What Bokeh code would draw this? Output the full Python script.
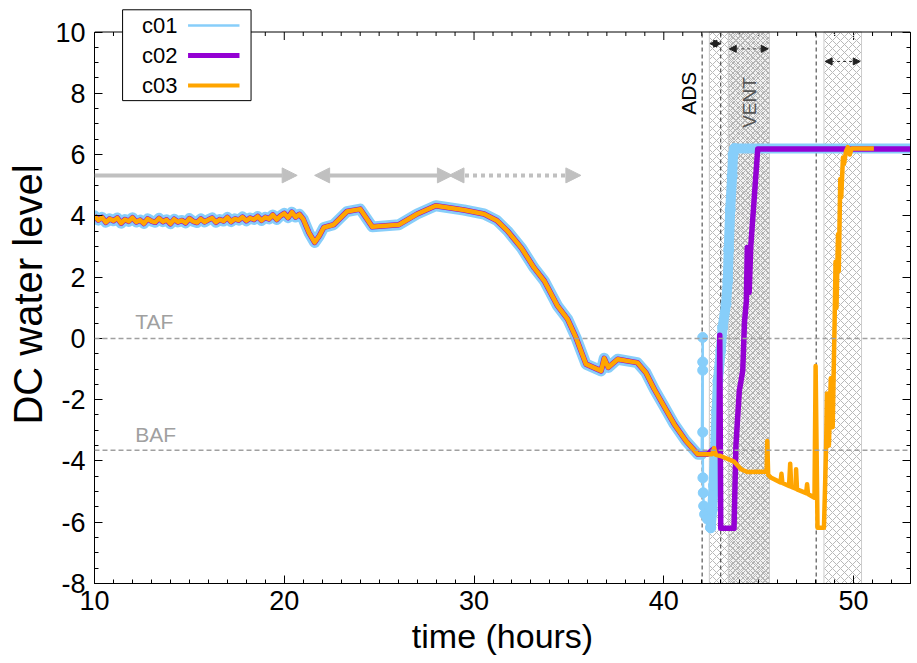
from bokeh.plotting import figure
from bokeh.models import (Range1d, SingleIntervalTicker, LinearAxis, Span, Label, Arrow,
                          NormalHead, BoxAnnotation, CustomJSTickFormatter)
from bokeh.embed import file_html
from bokeh.resources import INLINE

# ---------------- data ----------------
common_t = [10.0, 10.2, 10.4, 10.6, 10.8, 11.0, 11.2, 11.4, 11.6, 11.8,
            12.0, 12.2, 12.4, 12.6, 12.8, 13.0, 13.2, 13.4, 13.6, 13.8,
            14.0, 14.2, 14.4, 14.6, 14.8, 15.0, 15.2, 15.4, 15.6, 15.8,
            16.0, 16.2, 16.4, 16.6, 16.8, 17.0, 17.2, 17.4, 17.6, 17.8,
            18.0, 18.2, 18.4, 18.6, 18.8, 19.0, 19.2, 19.4, 19.6, 19.8,
            20.0, 20.2, 20.4, 20.6, 20.8, 21.0,
            21.3, 21.6, 21.85, 22.08, 22.6, 23.3, 24.0, 24.64, 26.04, 27.0,
            27.98, 29.47, 30.53, 31.2, 31.76, 32.5, 33.17, 33.7, 34.4, 34.93,
            35.37, 35.9, 36.7, 36.86, 37.07, 37.57, 38.6, 39.06, 39.5, 40.0,
            40.55, 41.17, 41.79]
common_y = [4.00, 3.86, 3.95, 3.79, 3.90, 3.84, 3.93, 3.76, 3.88, 3.82,
            3.94, 3.80, 3.86, 3.75, 3.90, 3.83, 3.79, 3.92, 3.81, 3.87,
            3.74, 3.89, 3.80, 3.85, 3.77, 3.91, 3.82, 3.78, 3.90, 3.80,
            3.87, 3.93, 3.79, 3.88, 3.83, 3.95, 3.81, 3.90, 3.86, 3.96,
            3.84, 3.93, 3.88, 3.98, 3.85, 3.95, 3.90, 4.03, 3.88, 4.00,
            4.08, 3.94, 4.12, 3.96, 4.05, 3.89,
            3.45, 3.13, 3.35, 3.62, 3.71, 4.14, 4.22, 3.64, 3.71, 4.06,
            4.33, 4.19, 4.06, 3.85, 3.51, 2.95, 2.30, 1.88, 1.06, 0.63,
            0.03, -0.84, -1.06, -0.65, -0.95, -0.68, -0.79, -1.12, -1.66, -2.2,
            -2.8, -3.35, -3.78]

# c01 after the common part: fast drop (sparse points) then rise to the top
c01_drop_t = [42.0, 42.05, 42.05, 42.05, 42.05, 42.06, 42.08, 42.1, 42.15, 42.3, 42.47]
c01_drop_y = [-3.78, 0.03, -0.77, -1.04, -3.06, -4.55, -5.04, -5.47, -5.74, -5.9, -6.18]
c01_rise_t = [42.47, 42.55, 42.62, 42.7, 42.78, 42.85, 43.0, 43.1, 43.28, 43.37, 43.42,
              43.5, 43.6, 43.65, 43.72, 53.0]
c01_rise_y = [-6.18, -5.6, -4.8, -3.6, -2.4, -1.39, -0.4, 0.36, 1.12, 1.88, 2.9,
              4.2, 5.3, 6.0, 6.2, 6.2]

c02_tail_t = [42.3, 42.6, 42.9, 42.95, 43.0, 43.7, 43.8, 43.98, 44.16, 44.25, 44.35,
              44.4, 44.5, 44.58, 44.95, 53.0]
c02_tail_y = [-3.78, -3.62, -3.8, 0.1, -6.2, -6.2, -3.5, -1.7, -1.06, 0.52, 1.2,
              2.97, 1.5, 2.97, 6.18, 6.18]

c03_tail_t = [42.3, 42.55, 42.65, 42.75, 43.0, 43.7, 44.07, 44.4, 45.3, 45.42, 45.45,
              45.5, 45.66, 46.15, 46.2, 46.25, 46.6, 46.66, 46.72, 46.95, 46.97, 47.02,
              47.5, 47.55, 47.6, 47.94, 48.0, 48.1, 48.44, 48.55, 48.6, 48.7, 48.8,
              48.9, 49.0, 49.05, 49.1, 49.18, 49.22, 49.3, 49.35, 49.44, 49.5, 49.6,
              49.7, 49.8, 49.9, 50.5, 51.07]
c03_tail_y = [-3.78, -3.78, -3.58, -3.8, -3.84, -4.02, -4.27, -4.36, -4.35, -4.35, -3.35,
              -4.45, -4.55, -4.7, -4.42, -4.72, -4.82, -4.09, -4.85, -4.9, -4.27, -4.93,
              -5.05, -4.76, -5.08, -5.2, -0.9, -6.18, -6.18, -3.6, -1.8, -3.5, -1.3,
              -2.9, 0.5, 2.5, 1.0, 3.4, 2.2, 5.2, 4.6, 5.9, 5.7, 6.1,
              6.24, 6.0, 6.2, 6.2, 6.2]

series_names = ["c01", "c02", "c03"]
series_colors = ["#87CEFA", "#9400D3", "#FFA500"]

taf_level = 0.0
baf_level = -3.65
event_lines = [42.02, 43.0, 48.03]          # ADS and later events
hatch_left = [42.4, 43.4, 48.44]
hatch_right = [45.57, 45.57, 50.42]

x_min, x_max = 10, 53
y_min, y_max = -8, 10
x_major = list(range(10, 51, 10))
x_minor = [v for v in range(11, 54) if v % 10 != 0]

# ---------------- figure ----------------
FONT = "Liberation Sans"
PX_PER_Y = 551.5 / 18.0           # pixel height of one y unit
TOP_PAD = 26.5                     # white band above the axes box (holds the legend)
y_view_top = y_max + TOP_PAD / PX_PER_Y

p = figure(width=917, height=663, x_range=Range1d(x_min, x_max),
           y_range=Range1d(y_min, y_view_top),
           output_backend="svg", toolbar_location=None,
           min_border_left=94, min_border_right=7, min_border_top=5, min_border_bottom=80)
p.background_fill_color = "white"
p.border_fill_color = "white"
p.outline_line_color = None
p.xgrid.visible = False
p.ygrid.visible = False

fmt = CustomJSTickFormatter(code="return tick.toFixed(0)")

def style_axis(ax, labels=True):
    ax.major_tick_in = 8
    ax.major_tick_out = 0
    ax.minor_tick_in = 4
    ax.minor_tick_out = 0
    ax.major_tick_line_color = "black"
    ax.minor_tick_line_color = "black"
    ax.axis_line_color = "black"
    if labels:
        ax.formatter = fmt
        ax.major_label_text_font = FONT
        ax.major_label_text_font_size = "27px"
        ax.major_label_text_color = "black"
        ax.axis_label_text_font = FONT
        ax.axis_label_text_font_style = "normal"
        ax.axis_label_text_color = "black"
    else:
        ax.formatter = CustomJSTickFormatter(code="return ''")
        ax.major_label_text_font_size = "1px"
        ax.major_label_standoff = 0

xa = p.xaxis[0]
xa.ticker = SingleIntervalTicker(interval=10, num_minor_ticks=10)
xa.axis_label = "time (hours)"
style_axis(xa)
xa.axis_label_text_font_size = "34px"
xa.major_label_standoff = 7
xa.axis_label_standoff = 4

ya = p.yaxis[0]
ya.ticker = SingleIntervalTicker(interval=2, num_minor_ticks=4)
ya.axis_label = "DC water level"
ya.bounds = (y_min, y_max)
style_axis(ya)
ya.axis_label_text_font_size = "40px"
ya.major_label_standoff = 9
ya.axis_label_standoff = 2

right_ax = LinearAxis(ticker=SingleIntervalTicker(interval=2, num_minor_ticks=4),
                      bounds=(y_min, y_max))
style_axis(right_ax, labels=False)
p.add_layout(right_ax, "right")

# top edge of the axes box with inward mirror ticks
p.add_layout(Span(location=y_max, dimension="width", line_color="black", line_width=1))
p.segment(x0=x_major, x1=x_major, y0=[y_max] * len(x_major),
          y1=[y_max - 8 / PX_PER_Y] * len(x_major), line_color="black", line_width=1)
p.segment(x0=x_minor, x1=x_minor, y0=[y_max] * len(x_minor),
          y1=[y_max - 4 / PX_PER_Y] * len(x_minor), line_color="black", line_width=1)

# hatched regions
p.quad(left=hatch_left[0:1], right=hatch_right[0:1], bottom=[y_min], top=[y_max],
       fill_color=None, hatch_pattern="diagonal_cross", hatch_color="#b8b8b8",
       hatch_scale=8, hatch_weight=1, line_color="#cccccc", line_width=1)
p.quad(left=hatch_left[1:2], right=hatch_right[1:2], bottom=[y_min], top=[y_max],
       fill_color="#d0d0d0", fill_alpha=0.3, hatch_pattern="diagonal_cross",
       hatch_color="#b0b0b0", hatch_scale=5, hatch_weight=1, line_color="#cccccc", line_width=1)
p.quad(left=hatch_left[2:3], right=hatch_right[2:3], bottom=[y_min], top=[y_max],
       fill_color=None, hatch_pattern="diagonal_cross", hatch_color="#b8b8b8",
       hatch_scale=8, hatch_weight=1, line_color="#cccccc", line_width=1)

# reference levels
for lvl in (taf_level, baf_level):
    p.add_layout(Span(location=lvl, dimension="width", line_color="#a0a0a0",
                      line_dash="5 3", line_width=1.5))
p.segment(x0=event_lines, x1=event_lines, y0=[y_min] * len(event_lines),
          y1=[y_max] * len(event_lines), line_color="#333333", line_dash="4 3", line_width=1)

p.add_layout(Label(x=12.15, y=taf_level + 0.17, text="TAF", text_font=FONT,
                   text_font_size="21px", text_color="#a0a0a0", text_baseline="bottom"))
p.add_layout(Label(x=12.15, y=baf_level + 0.13, text="BAF", text_font=FONT,
                   text_font_size="21px", text_color="#a0a0a0", text_baseline="bottom"))

# ---------------- series ----------------
p.line(common_t + [42.0], common_y + [-3.78], line_width=11, line_color=series_colors[0],
       line_join="round", line_cap="round")
p.line(c01_rise_t, c01_rise_y, line_width=10, line_color=series_colors[0],
       line_join="round", line_cap="round")
p.line(c01_drop_t, c01_drop_y, line_width=2.5, line_color=series_colors[0])
p.scatter(c01_drop_t[1:] + c01_rise_t[:-1], c01_drop_y[1:] + c01_rise_y[:-1],
          marker="circle", size=10, fill_color=series_colors[0], line_color=series_colors[0])

p.line(common_t + c02_tail_t, common_y + c02_tail_y, line_width=5.5,
       line_color=series_colors[1], line_join="round")
p.line(common_t + c03_tail_t, common_y + c03_tail_y, line_width=4.5,
       line_color=series_colors[2], line_join="round")

# ---------------- arrows / annotations ----------------
GRAY = "#c0c0c0"
def ghead():
    return NormalHead(size=15, fill_color=GRAY, line_color=GRAY, line_width=1)

p.add_layout(Arrow(start=None, end=ghead(), x_start=10.0, y_start=5.32, x_end=20.68, y_end=5.32,
                   line_color=GRAY, line_width=4))
p.add_layout(Arrow(start=ghead(), end=ghead(), x_start=21.6, y_start=5.32, x_end=28.86, y_end=5.32,
                   line_color=GRAY, line_width=4))
p.add_layout(Arrow(start=ghead(), end=ghead(), x_start=28.68, y_start=5.32, x_end=35.63, y_end=5.32,
                   line_color=GRAY, line_width=4, line_dash="4 4"))

def bhead():
    return NormalHead(size=7, fill_color="#222222", line_color="#222222", line_width=1)

p.add_layout(Arrow(start=bhead(), end=bhead(), x_start=42.43, y_start=9.62, x_end=43.0, y_end=9.62,
                   line_color="#222222", line_width=1, line_dash="3 3"))
p.add_layout(Arrow(start=bhead(), end=bhead(), x_start=43.45, y_start=9.45, x_end=45.5, y_end=9.45,
                   line_color="#444444", line_width=1, line_dash="3 3"))
p.add_layout(Arrow(start=bhead(), end=bhead(), x_start=48.5, y_start=9.04, x_end=50.35, y_end=9.04,
                   line_color="#222222", line_width=1, line_dash="3 3"))

p.add_layout(Label(x=41.3, y=8.0, text="ADS", angle=90, angle_units="deg", text_font=FONT,
                   text_font_size="21px", text_color="black", text_align="center",
                   text_baseline="middle"))
p.add_layout(Label(x=44.5, y=7.7, text="VENT", angle=90, angle_units="deg", text_font=FONT,
                   text_font_size="19px", text_color="#555555", text_align="center",
                   text_baseline="middle"))

# ---------------- legend (label left, sample right) ----------------
leg_left, leg_right, leg_top, leg_bottom = 11.48, 18.25, 10.725, 7.76
p.add_layout(BoxAnnotation(left=leg_left, right=leg_right, top=leg_top, bottom=leg_bottom,
                           fill_color="white", fill_alpha=1, line_color="black",
                           line_alpha=1, line_width=1))
leg_rows = [10.21, 9.23, 8.25]
leg_widths = [2.5, 5, 4]
for name, col, yy, lw in zip(series_names, series_colors, leg_rows, leg_widths):
    p.add_layout(Label(x=12.5, y=yy, text=name, text_font=FONT, text_font_size="22px",
                       text_color="black", text_baseline="middle", text_align="left"))
    p.add_layout(Arrow(start=None, end=None, x_start=14.93, x_end=17.64, y_start=yy, y_end=yy,
                       line_color=col, line_width=lw))

open("out.html", "w").write(file_html(p, INLINE))
